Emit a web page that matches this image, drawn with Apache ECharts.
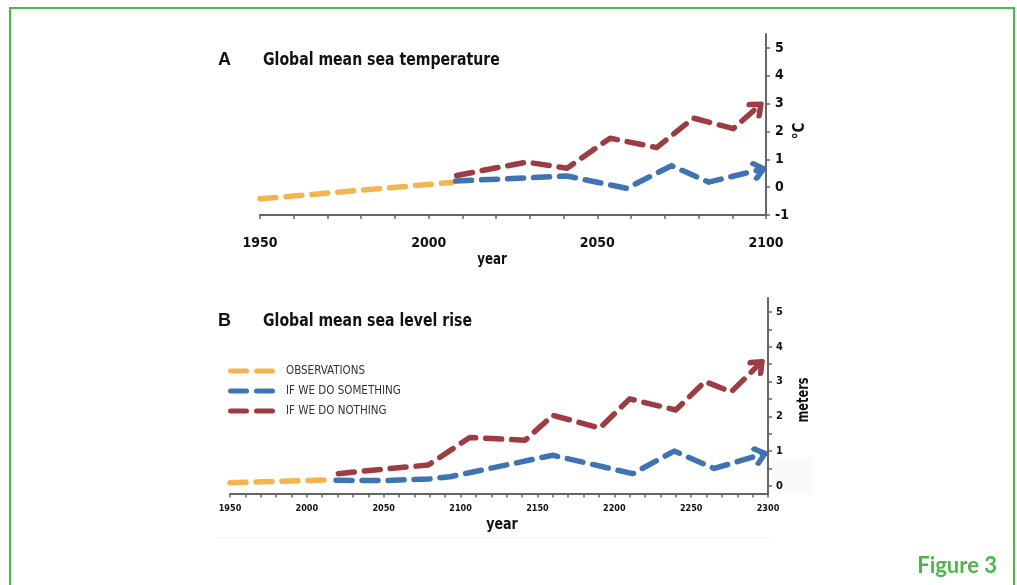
<!DOCTYPE html>
<html><head><meta charset="utf-8">
<script src="https://cdn.jsdelivr.net/npm/echarts@6/dist/echarts.min.js"></script>
<style>html,body{margin:0;padding:0;background:#fff;overflow:hidden}#c{width:1017px;height:585px}</style>
</head><body><div id="c"></div>
<script>
// ---------- data ----------
const seriesNames = ['OBSERVATIONS', 'IF WE DO SOMETHING', 'IF WE DO NOTHING'];
const lineColors = ['#F5B54E', '#3F73B1', '#9D3C42'];

// Panel A: global mean sea temperature (°C)
const tempObservations = [[1950, -0.42], [2007, 0.17]];
const tempSomething = [[2008, 0.22], [2041, 0.40], [2058.7, -0.04], [2072, 0.77], [2083, 0.18], [2099.3, 0.66]];
const tempNothing = [[2008.3, 0.42], [2029, 0.90], [2041, 0.68], [2053.8, 1.76], [2067.6, 1.42], [2078.5, 2.48], [2090.3, 2.10], [2098.5, 2.98]];
const tempXLabels = [1950, 2000, 2050, 2100];
const tempYLabels = [-1, 0, 1, 2, 3, 4, 5];

// Panel B: global mean sea level rise (meters)
const seaObservations = [[1950, 0.09], [2013, 0.17]];
const seaSomething = [[2019, 0.16], [2050, 0.15], [2080, 0.20], [2093, 0.26], [2160, 0.88], [2212, 0.35], [2239, 1.00], [2265, 0.50], [2298, 0.93]];
const seaNothing = [[2020.5, 0.35], [2050, 0.48], [2079, 0.60], [2106, 1.39], [2142, 1.31], [2160, 2.03], [2190.6, 1.66], [2210, 2.50], [2240, 2.18], [2259, 3.00], [2276, 2.70], [2296, 3.57]];
const seaXLabels = [1950, 2000, 2050, 2100, 2150, 2200, 2250, 2300];
const seaYLabels = [0, 1, 2, 3, 4, 5];
const seaYTicks = [0, 0.5, 1, 1.5, 2, 2.5, 3, 3.5, 4, 4.5, 5];

// ---------- styling ----------
const NARROW = "'Liberation Sans Narrow','DejaVu Sans Condensed','Arial Narrow',sans-serif";
const AXIS = '#666';
const TXT = '#111';
const GREEN = '#4FB64C';
const DASH = [16, 10];
const ARROW = 'path://M0,0L10,10L0,20M20,10';

const chart = echarts.init(document.getElementById('c'), null, {renderer: 'canvas'});

function xAxisCfg(grid, min, max, labels, fs, margin) {
  return {
    type: 'value', gridIndex: grid, min: min, max: max, interval: 10,
    axisLine: {show: true, onZero: false, lineStyle: {color: AXIS, width: 2}},
    axisTick: {show: true, length: 4, lineStyle: {color: AXIS, width: 1.5}},
    axisLabel: {
      margin: margin, fontSize: fs, fontWeight: 'bold', color: TXT, fontFamily: NARROW,
      formatter: v => labels.indexOf(v) >= 0 ? String(v) : ''
    },
    splitLine: {show: false}
  };
}
function yAxisCfg(grid, min, max, ticks, labels, fs, margin) {
  return {
    type: 'value', gridIndex: grid, position: 'right', min: min, max: max,
    axisLine: {show: true, onZero: false, lineStyle: {color: AXIS, width: 2}},
    axisTick: {show: true, length: 4, customValues: ticks, lineStyle: {color: AXIS, width: 1.5}},
    axisLabel: {margin: margin, fontSize: fs, fontWeight: 'bold', color: TXT, fontFamily: NARROW, customValues: labels},
    splitLine: {show: false}
  };
}

function lineSeries(name, color, grid, pts, rot) {
  const data = pts.map(p => [p[0], p[1]]);
  if (rot !== undefined) {
    const last = data.pop();
    data.push({
      value: last, symbol: ARROW, symbolSize: [18, 15], symbolRotate: rot,
      itemStyle: {color: 'rgba(0,0,0,0)', borderColor: color, borderWidth: 5.5, borderCap: 'round', borderJoin: 'round'}
    });
  }
  return {
    type: 'line', name: name, xAxisIndex: grid, yAxisIndex: grid, data: data,
    symbol: 'none', showSymbol: true, smooth: false, silent: true,
    itemStyle: {color: color},
    lineStyle: {color: color, width: 5.5, type: DASH, cap: 'round', join: 'round'},
    z: 3
  };
}

function buildSeries(rots) {
  return [
    lineSeries(seriesNames[0], lineColors[0], 0, tempObservations),
    lineSeries(seriesNames[1], lineColors[1], 0, tempSomething, rots[0]),
    lineSeries(seriesNames[2], lineColors[2], 0, tempNothing, rots[1]),
    lineSeries(seriesNames[0], lineColors[0], 1, seaObservations),
    lineSeries(seriesNames[1], lineColors[1], 1, seaSomething, rots[2]),
    lineSeries(seriesNames[2], lineColors[2], 1, seaNothing, rots[3])
  ];
}

const pill = 'path://M2.5,0H18.5A2.5,2.5,0,0,1,18.5,5H2.5A2.5,2.5,0,0,1,2.5,0ZM28.5,0H44.5A2.5,2.5,0,0,1,44.5,5H28.5A2.5,2.5,0,0,1,28.5,0Z';

function txt(text, x, y, size, opts) {
  opts = opts || {};
  return {
    type: 'text', x: x, y: y, rotation: opts.rotation || 0, scaleX: opts.sx || 1, silent: true, z: 10,
    style: {
      text: text, fill: opts.fill || TXT, fontSize: size, fontWeight: opts.weight || 'bold',
      fontFamily: opts.family || NARROW, align: opts.align || 'left', verticalAlign: 'middle'
    }
  };
}

const option = {
  animation: false,
  backgroundColor: '#fff',
  grid: [
    {left: 260, width: 506, top: 34, height: 181, containLabel: false},
    {left: 230, width: 538, top: 298, height: 195.5, containLabel: false}
  ],
  xAxis: [
    xAxisCfg(0, 1950, 2100, tempXLabels, 14, 21),
    xAxisCfg(1, 1950, 2300, seaXLabels, 9, 11)
  ],
  yAxis: [
    yAxisCfg(0, -1, 5.5, tempYLabels, tempYLabels, 14, 9),
    yAxisCfg(1, -0.22, 5.4, seaYTicks, seaYLabels, 11, 8)
  ],
  legend: {
    left: 228, top: 364, orient: 'vertical', padding: 0, itemGap: 6,
    itemWidth: 47, itemHeight: 5, icon: pill, selectedMode: false,
    itemStyle: {borderWidth: 0},
    textStyle: {fontSize: 11.5, color: '#333', fontFamily: NARROW, lineHeight: 14, padding: [0, 0, 0, 6]},
    data: seriesNames
  },
  graphic: [
    {type: 'rect', shape: {x: 10, y: 8, width: 1004, height: 620}, style: {fill: 'none', stroke: GREEN, lineWidth: 2}, silent: true, z: 0},
    {type: 'rect', shape: {x: 215, y: 537, width: 555, height: 1}, style: {fill: '#f3f3f3'}, silent: true, z: 0},
    {type: 'rect', shape: {x: 772, y: 458, width: 41, height: 36}, style: {fill: '#fafafa'}, silent: true, z: 0},
    txt('A', 218, 60, 18, {family: "'Liberation Sans',Arial,sans-serif"}),
    txt('Global mean sea temperature', 263, 60, 18, {sx: 0.87}),
    txt('year', 492, 260, 15, {align: 'center', sx: 0.88}),
    txt('°C', 800, 131, 15, {align: 'center', rotation: Math.PI / 2}),
    txt('B', 218, 321, 18, {family: "'Liberation Sans',Arial,sans-serif"}),
    txt('Global mean sea level rise', 263, 321, 18, {sx: 0.87}),
    txt('year', 502, 525, 16, {align: 'center', sx: 0.88}),
    txt('meters', 804, 400, 15, {align: 'center', rotation: Math.PI / 2, sx: 0.84}),
    txt('Figure 3', 997, 566, 22, {align: 'right', fill: GREEN, family: "Lato,'Open Sans',sans-serif"})
  ],
  series: buildSeries([0, 0, 0, 0])
};

chart.setOption(option);

function angleOf(grid, pts) {
  const a = chart.convertToPixel({gridIndex: grid}, pts[pts.length - 2]);
  const b = chart.convertToPixel({gridIndex: grid}, pts[pts.length - 1]);
  return Math.atan2(-(b[1] - a[1]), b[0] - a[0]) * 180 / Math.PI;
}
const rots = [
  angleOf(0, tempSomething), angleOf(0, tempNothing),
  angleOf(1, seaSomething), angleOf(1, seaNothing)
];
chart.setOption({series: buildSeries(rots)});
</script>
</body></html>
